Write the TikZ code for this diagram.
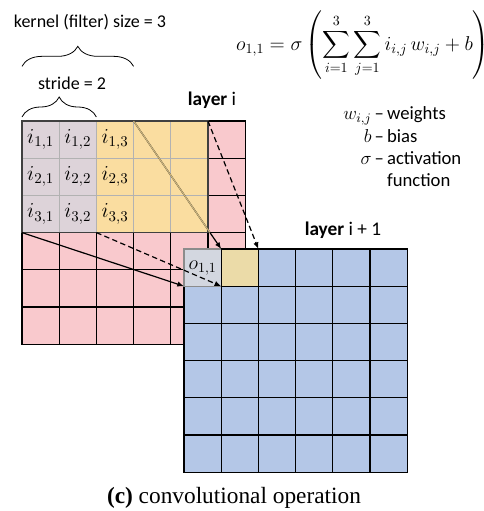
\RequirePackage{fix-cm}
\documentclass[tikz,border=0pt]{standalone}
\usepackage{exscale}
\usepackage{fontspec}
\setmainfont{Carlito}
\newfontfamily\capfont{Liberation Serif}
\usetikzlibrary{calc,arrows.meta,decorations.pathreplacing}

\definecolor{pinkcell}{RGB}{249,201,205}
\definecolor{bluecell}{RGB}{180,199,231}
\definecolor{kgray}{RGB}{221,211,217}
\definecolor{kyellow}{RGB}{250,221,160}
\definecolor{ogray}{RGB}{211,215,224}
\definecolor{oyellow}{RGB}{235,219,168}
\definecolor{tanline}{RGB}{200,178,125}

\tikzset{
  cell/.style={draw, minimum size=27.9pt, inner sep=0pt, outer sep=0pt, line width=0.8pt},
  incell/.style={cell, fill=pinkcell},
  outcell/.style={cell, fill=bluecell},
  kcell/.style={cell, draw=black!30, font=\fontsize{16}{18}\selectfont},
  link/.style={line width=0.9pt, -{Latex[length=5pt,width=4pt]}},
  dashlink/.style={link, dash pattern=on 4pt off 2.5pt},
  curly/.style={decorate, decoration={brace, amplitude=15pt}, line width=0.6pt}
}

\begin{document}
\begin{tikzpicture}[x=0.75pt, y=-0.75pt]
  \useasboundingbox (0,0) rectangle (483,511);
  \foreach \r in {1,...,6}
    \foreach \c in {1,...,6}
      \node[incell] (in-\r-\c) at ({22+37.2*(\c-0.5)},{121+37.2*(\r-0.5)}) {};
  \foreach \r in {1,2,3} {
    \foreach \c in {1,2}
      \node[kcell, fill=kgray] (k-\r-\c) at (in-\r-\c) {$i_{\r,\c}$};
    \node[kcell, fill=kyellow] (k-\r-3) at (in-\r-3) {$i_{\r,3}$};
    \foreach \c in {4,5}
      \node[kcell, fill=kyellow] (k-\r-\c) at (in-\r-\c) {};
  }
  \draw[black!75, line width=0.8pt] (k-1-1.north west) rectangle (k-3-5.south east);
  \foreach \r in {1,...,6}
    \foreach \c in {1,...,6}
      \node[outcell] (out-\r-\c) at ({184+37.2*(\c-0.5)},{249+37.2*(\r-0.5)}) {};
  \node[cell, fill=ogray, draw=black!45, font=\fontsize{15}{17}\selectfont] (o11) at (out-1-1) {$o_{1,1}$};
  \node[cell, fill=oyellow] (o12) at (out-1-2) {};

  \draw[link] (k-3-1.south west) -- (o11.south west);
  \draw[dashlink] (k-3-2.south east) -- (o11.south east);
  \draw[link] (k-1-4.north west) -- (o12.north west);
  \draw[tanline, line width=0.9pt] (k-1-4.north west) -- ($(k-1-4.north west)!0.87!(o12.north west)$);
  \draw[dashlink] (k-1-5.north east) -- (o12.north east);

  \draw[curly] ([yshift=3pt]k-1-1.north west) -- ([yshift=3pt]k-1-2.north east);
  \draw[curly] ([yshift=41pt]k-1-1.north west) -- ([yshift=41pt]k-1-3.north east);
  \node (stride) at (72,83) {\fontsize{13.5}{16}\selectfont stride = 2};
  \node (kernel) at (90,22) {\fontsize{13.5}{16}\selectfont kernel (filter) size = 3};

  \node (layer-i) at (212,100) {\fontsize{14.5}{17}\selectfont\textbf{layer} i};
  \node (layer-i1) at (343,230) {\fontsize{14.5}{17}\selectfont\textbf{layer} i + 1};

  \node[inner sep=0pt] (formula) at (363,45) {\fontsize{15}{18}\selectfont
    $\displaystyle o_{1,1}=\sigma\left(\sum_{i=1}^{3}\sum_{j=1}^{3} i_{i,j}\,w_{i,j}+b\right)$};
  \node[anchor=north west, inner sep=0pt] (legend) at (343,104) {\fontsize{14}{16.7}\selectfont
    \begin{tabular}{@{}r@{\,}c@{\,}l@{}}
      $w_{i,j}$ & -- & weights\\
      $b$ & -- & bias\\
      $\sigma$ & -- & activation\\
      & & function
    \end{tabular}};

  \node (caption) at (234,498) {\capfont\fontsize{17.5}{20}\selectfont\textbf{(c)} convolutional operation};
\end{tikzpicture}
\end{document}
